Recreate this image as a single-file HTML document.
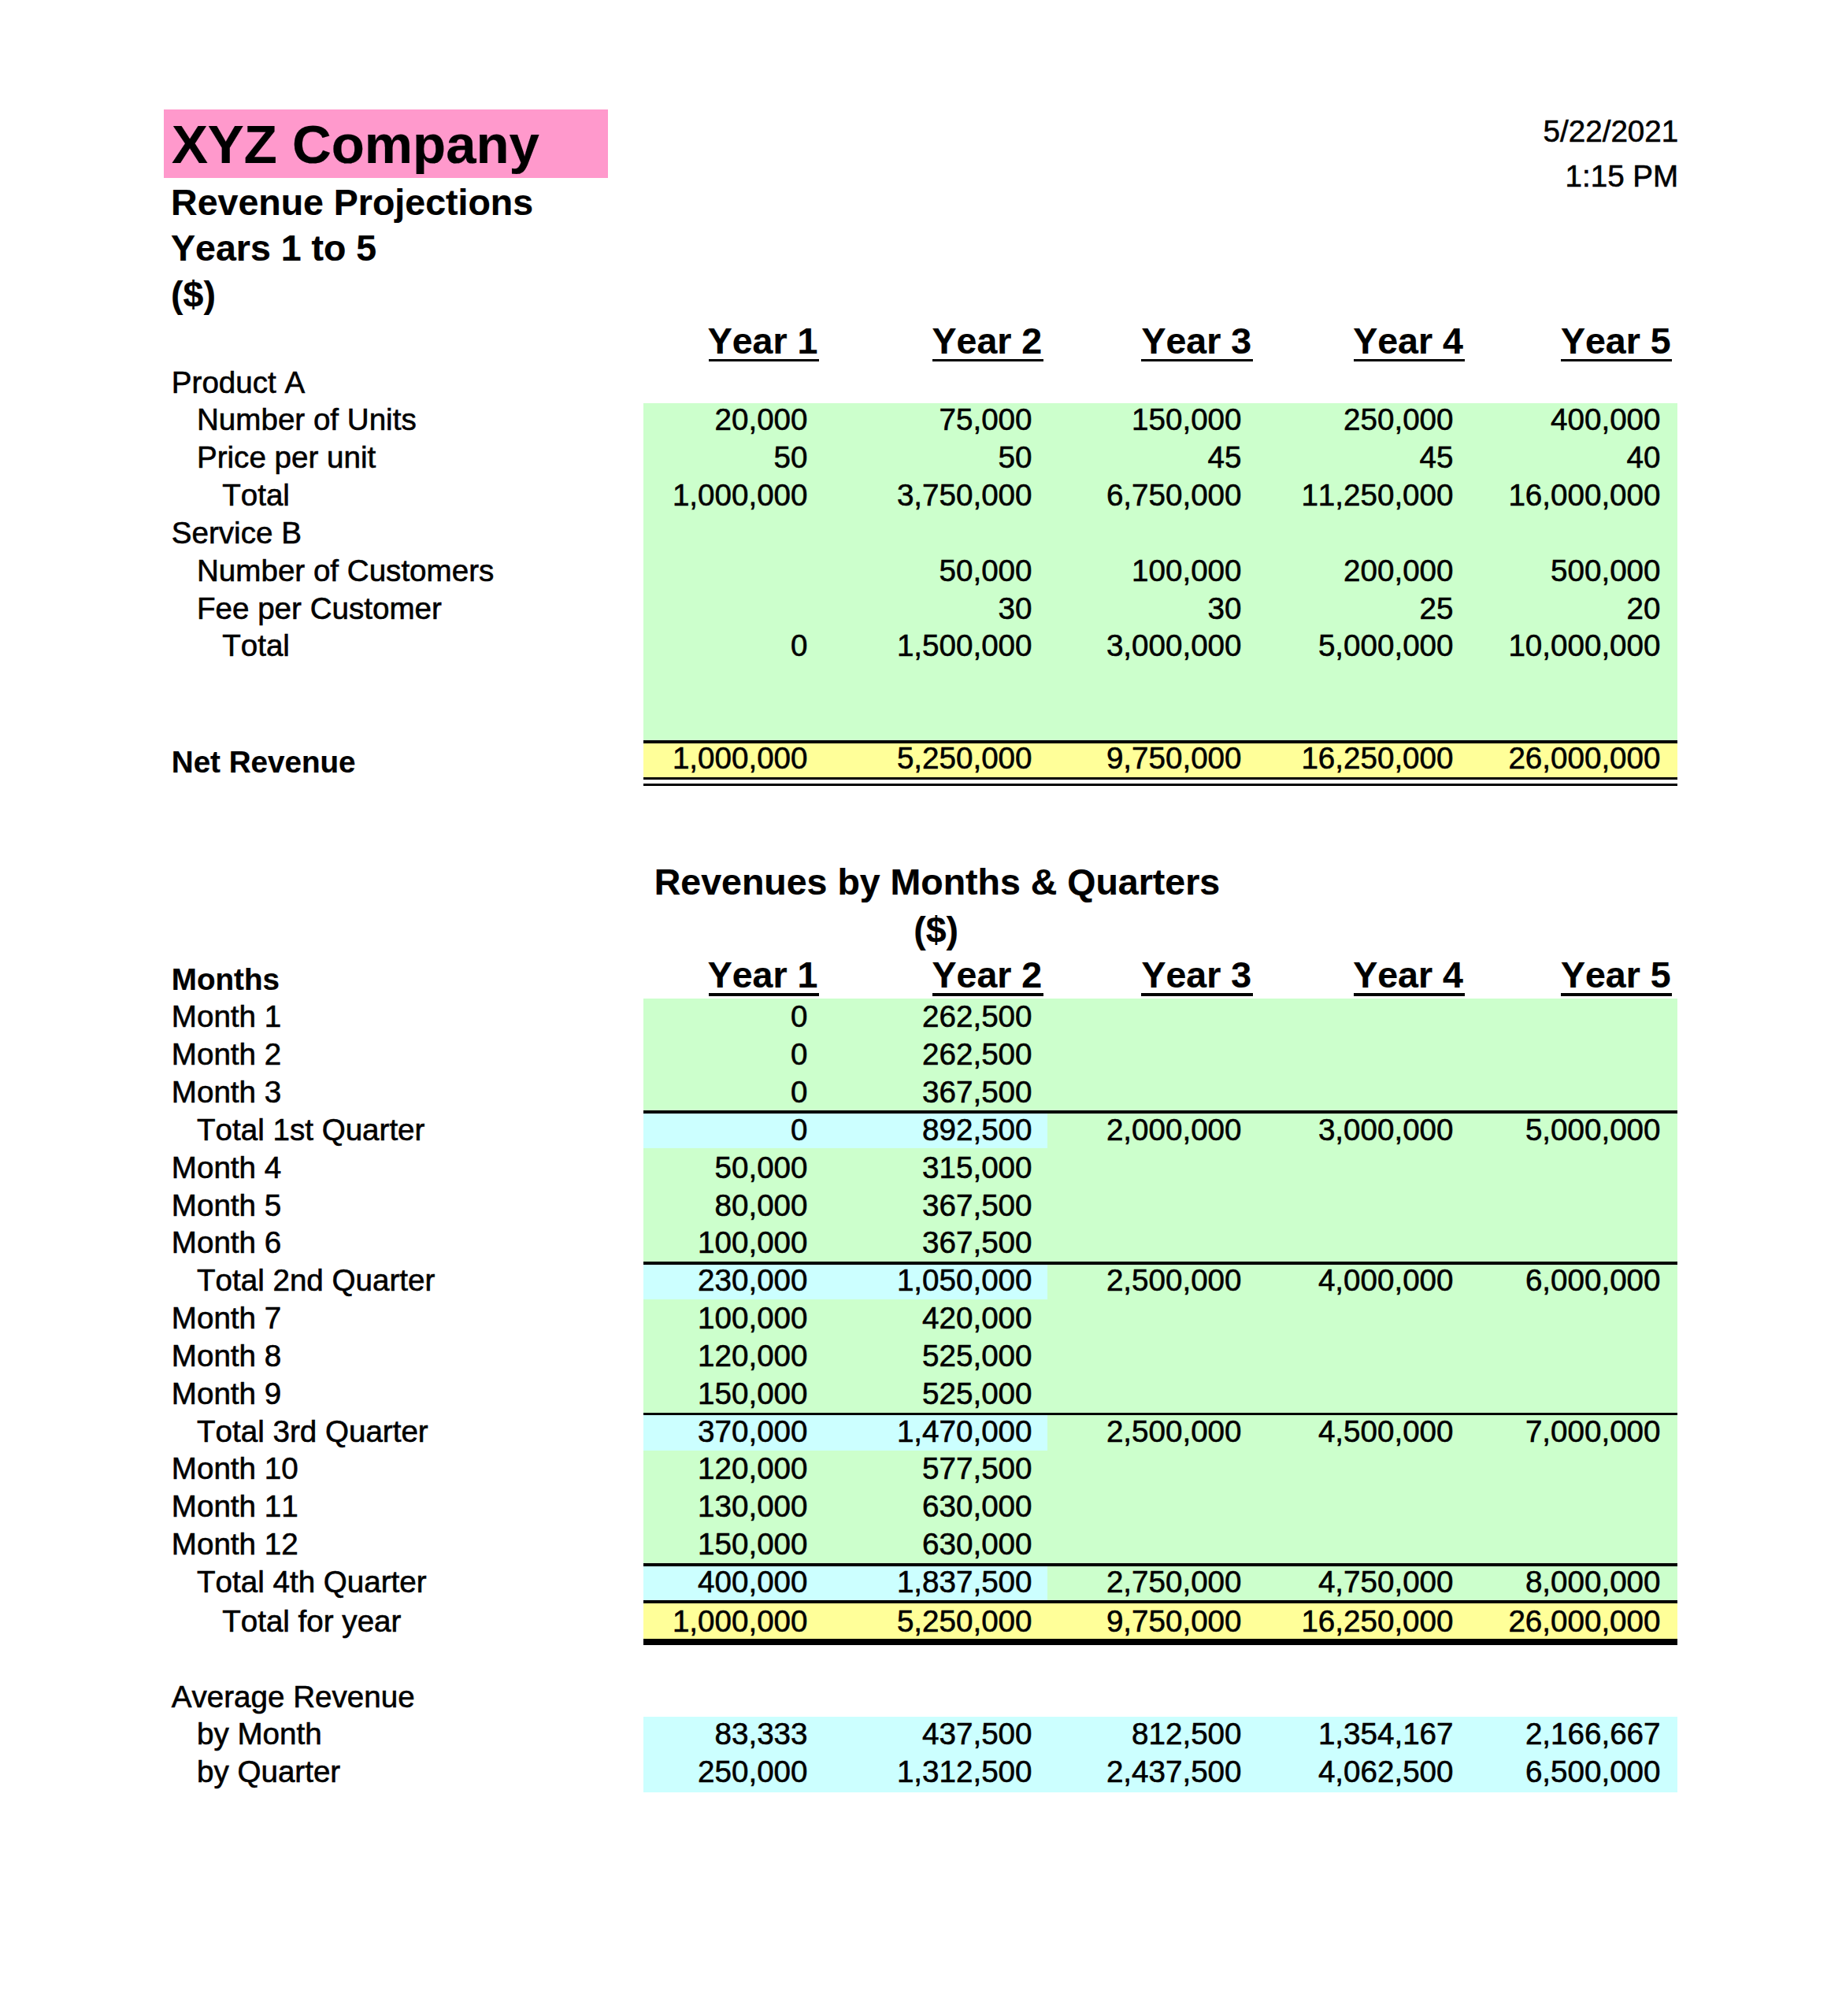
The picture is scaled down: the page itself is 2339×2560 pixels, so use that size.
<!DOCTYPE html>
<html><head><meta charset="utf-8"><style>
html,body{margin:0;padding:0;background:#fff;}
body{width:2339px;height:2560px;position:relative;overflow:hidden;font-family:"Liberation Sans",sans-serif;color:#000;font-kerning:none;}
.r{position:absolute;}
.t,.b{position:absolute;white-space:pre;}
.t{-webkit-text-stroke:0.6px #000;}
.b{-webkit-text-stroke:0.2px #000;}
.b{font-weight:bold;}
</style></head><body>
<div class="r" style="left:208.2px;top:139.4px;width:563.5px;height:86.4px;background:#FF99CC"></div>
<div class="r" style="left:816.6px;top:511.6px;width:1313.9px;height:428.4px;background:#CCFFCC"></div>
<div class="r" style="left:816.6px;top:940.0px;width:1313.9px;height:4.0px;background:#000"></div>
<div class="r" style="left:816.6px;top:944.0px;width:1313.9px;height:43.0px;background:#FFFF99"></div>
<div class="r" style="left:816.6px;top:987.0px;width:1313.9px;height:3.3px;background:#000"></div>
<div class="r" style="left:816.6px;top:994.6px;width:1313.9px;height:3.7px;background:#000"></div>
<div class="r" style="left:816.6px;top:1267.6px;width:1313.9px;height:765.2px;background:#CCFFCC"></div>
<div class="r" style="left:816.6px;top:1410.4px;width:1313.9px;height:3.7px;background:#000"></div>
<div class="r" style="left:816.6px;top:1414.1px;width:513.7px;height:44.2px;background:#CCFFFF"></div>
<div class="r" style="left:816.6px;top:1602.2px;width:1313.9px;height:3.7px;background:#000"></div>
<div class="r" style="left:816.6px;top:1606.0px;width:513.7px;height:44.2px;background:#CCFFFF"></div>
<div class="r" style="left:816.6px;top:1793.7px;width:1313.9px;height:3.7px;background:#000"></div>
<div class="r" style="left:816.6px;top:1797.4px;width:513.7px;height:44.2px;background:#CCFFFF"></div>
<div class="r" style="left:816.6px;top:1984.9px;width:1313.9px;height:3.7px;background:#000"></div>
<div class="r" style="left:816.6px;top:1988.6px;width:513.7px;height:43.6px;background:#CCFFFF"></div>
<div class="r" style="left:816.6px;top:2032.2px;width:1313.9px;height:3.7px;background:#000"></div>
<div class="r" style="left:816.6px;top:2035.9px;width:1313.9px;height:45.4px;background:#FFFF99"></div>
<div class="r" style="left:816.6px;top:2081.3px;width:1313.9px;height:7.5px;background:#000"></div>
<div class="r" style="left:816.6px;top:2180.1px;width:1313.9px;height:96.4px;background:#CCFFFF"></div>
<div class="b" style="left:217.90px;top:149.86px;font-size:68.9px;line-height:68.9px">XYZ Company</div>
<div class="b" style="left:217.10px;top:233.73px;font-size:46.5px;line-height:46.5px">Revenue Projections</div>
<div class="b" style="left:217.10px;top:292.13px;font-size:46.5px;line-height:46.5px">Years 1 to 5</div>
<div class="b" style="left:217.10px;top:350.53px;font-size:46.5px;line-height:46.5px">($)</div>
<div class="t" style="right:207.80px;top:147.52px;font-size:38.6px;line-height:38.6px">5/22/2021</div>
<div class="t" style="right:207.80px;top:204.82px;font-size:38.6px;line-height:38.6px">1:15 PM</div>
<div class="b" style="left:898.71px;top:410.03px;font-size:46.5px;line-height:46.5px">Year 1</div>
<div class="r" style="left:900.0px;top:455.9px;width:140.0px;height:3.5px;background:#000"></div>
<div class="b" style="left:1183.51px;top:410.03px;font-size:46.5px;line-height:46.5px">Year 2</div>
<div class="r" style="left:1183.7px;top:455.9px;width:141.0px;height:3.5px;background:#000"></div>
<div class="b" style="left:1449.41px;top:410.03px;font-size:46.5px;line-height:46.5px">Year 3</div>
<div class="r" style="left:1449.3px;top:455.9px;width:141.7px;height:3.5px;background:#000"></div>
<div class="b" style="left:1718.21px;top:410.03px;font-size:46.5px;line-height:46.5px">Year 4</div>
<div class="r" style="left:1719.3px;top:455.9px;width:140.7px;height:3.5px;background:#000"></div>
<div class="b" style="left:1981.91px;top:410.03px;font-size:46.5px;line-height:46.5px">Year 5</div>
<div class="r" style="left:1981.7px;top:455.9px;width:141.3px;height:3.5px;background:#000"></div>
<div class="t" style="left:217.80px;top:466.52px;font-size:38.6px;line-height:38.6px">Product A</div>
<div class="t" style="left:249.97px;top:514.36px;font-size:38.6px;line-height:38.6px">Number of Units</div>
<div class="t" style="right:1313.50px;top:514.36px;font-size:38.6px;line-height:38.6px">20,000</div>
<div class="t" style="right:1028.50px;top:514.36px;font-size:38.6px;line-height:38.6px">75,000</div>
<div class="t" style="right:762.50px;top:514.36px;font-size:38.6px;line-height:38.6px">150,000</div>
<div class="t" style="right:493.50px;top:514.36px;font-size:38.6px;line-height:38.6px">250,000</div>
<div class="t" style="right:230.50px;top:514.36px;font-size:38.6px;line-height:38.6px">400,000</div>
<div class="t" style="left:249.97px;top:562.20px;font-size:38.6px;line-height:38.6px">Price per unit</div>
<div class="t" style="right:1313.50px;top:562.20px;font-size:38.6px;line-height:38.6px">50</div>
<div class="t" style="right:1028.50px;top:562.20px;font-size:38.6px;line-height:38.6px">50</div>
<div class="t" style="right:762.50px;top:562.20px;font-size:38.6px;line-height:38.6px">45</div>
<div class="t" style="right:493.50px;top:562.20px;font-size:38.6px;line-height:38.6px">45</div>
<div class="t" style="right:230.50px;top:562.20px;font-size:38.6px;line-height:38.6px">40</div>
<div class="t" style="left:282.15px;top:610.04px;font-size:38.6px;line-height:38.6px">Total</div>
<div class="t" style="right:1313.50px;top:610.04px;font-size:38.6px;line-height:38.6px">1,000,000</div>
<div class="t" style="right:1028.50px;top:610.04px;font-size:38.6px;line-height:38.6px">3,750,000</div>
<div class="t" style="right:762.50px;top:610.04px;font-size:38.6px;line-height:38.6px">6,750,000</div>
<div class="t" style="right:493.50px;top:610.04px;font-size:38.6px;line-height:38.6px">11,250,000</div>
<div class="t" style="right:230.50px;top:610.04px;font-size:38.6px;line-height:38.6px">16,000,000</div>
<div class="t" style="left:217.80px;top:657.88px;font-size:38.6px;line-height:38.6px">Service B</div>
<div class="t" style="left:249.97px;top:705.72px;font-size:38.6px;line-height:38.6px">Number of Customers</div>
<div class="t" style="right:1028.50px;top:705.72px;font-size:38.6px;line-height:38.6px">50,000</div>
<div class="t" style="right:762.50px;top:705.72px;font-size:38.6px;line-height:38.6px">100,000</div>
<div class="t" style="right:493.50px;top:705.72px;font-size:38.6px;line-height:38.6px">200,000</div>
<div class="t" style="right:230.50px;top:705.72px;font-size:38.6px;line-height:38.6px">500,000</div>
<div class="t" style="left:249.97px;top:753.56px;font-size:38.6px;line-height:38.6px">Fee per Customer</div>
<div class="t" style="right:1028.50px;top:753.56px;font-size:38.6px;line-height:38.6px">30</div>
<div class="t" style="right:762.50px;top:753.56px;font-size:38.6px;line-height:38.6px">30</div>
<div class="t" style="right:493.50px;top:753.56px;font-size:38.6px;line-height:38.6px">25</div>
<div class="t" style="right:230.50px;top:753.56px;font-size:38.6px;line-height:38.6px">20</div>
<div class="t" style="left:282.15px;top:801.40px;font-size:38.6px;line-height:38.6px">Total</div>
<div class="t" style="right:1313.50px;top:801.40px;font-size:38.6px;line-height:38.6px">0</div>
<div class="t" style="right:1028.50px;top:801.40px;font-size:38.6px;line-height:38.6px">1,500,000</div>
<div class="t" style="right:762.50px;top:801.40px;font-size:38.6px;line-height:38.6px">3,000,000</div>
<div class="t" style="right:493.50px;top:801.40px;font-size:38.6px;line-height:38.6px">5,000,000</div>
<div class="t" style="right:230.50px;top:801.40px;font-size:38.6px;line-height:38.6px">10,000,000</div>
<div class="b" style="left:217.80px;top:949.32px;font-size:38.6px;line-height:38.6px">Net Revenue</div>
<div class="t" style="right:1313.50px;top:944.22px;font-size:38.6px;line-height:38.6px">1,000,000</div>
<div class="t" style="right:1028.50px;top:944.22px;font-size:38.6px;line-height:38.6px">5,250,000</div>
<div class="t" style="right:762.50px;top:944.22px;font-size:38.6px;line-height:38.6px">9,750,000</div>
<div class="t" style="right:493.50px;top:944.22px;font-size:38.6px;line-height:38.6px">16,250,000</div>
<div class="t" style="right:230.50px;top:944.22px;font-size:38.6px;line-height:38.6px">26,000,000</div>
<div class="b" style="left:830.79px;top:1097.33px;font-size:46.5px;line-height:46.5px">Revenues by Months &amp; Quarters</div>
<div class="b" style="left:1160.28px;top:1157.83px;font-size:46.5px;line-height:46.5px">($)</div>
<div class="b" style="left:898.71px;top:1215.43px;font-size:46.5px;line-height:46.5px">Year 1</div>
<div class="r" style="left:900.0px;top:1261.3px;width:140.0px;height:3.5px;background:#000"></div>
<div class="b" style="left:1183.51px;top:1215.43px;font-size:46.5px;line-height:46.5px">Year 2</div>
<div class="r" style="left:1183.7px;top:1261.3px;width:141.0px;height:3.5px;background:#000"></div>
<div class="b" style="left:1449.41px;top:1215.43px;font-size:46.5px;line-height:46.5px">Year 3</div>
<div class="r" style="left:1449.3px;top:1261.3px;width:141.7px;height:3.5px;background:#000"></div>
<div class="b" style="left:1718.21px;top:1215.43px;font-size:46.5px;line-height:46.5px">Year 4</div>
<div class="r" style="left:1719.3px;top:1261.3px;width:140.7px;height:3.5px;background:#000"></div>
<div class="b" style="left:1981.91px;top:1215.43px;font-size:46.5px;line-height:46.5px">Year 5</div>
<div class="r" style="left:1981.7px;top:1261.3px;width:141.3px;height:3.5px;background:#000"></div>
<div class="b" style="left:217.80px;top:1224.52px;font-size:38.6px;line-height:38.6px">Months</div>
<div class="t" style="left:217.80px;top:1272.36px;font-size:38.6px;line-height:38.6px">Month 1</div>
<div class="t" style="right:1313.50px;top:1272.36px;font-size:38.6px;line-height:38.6px">0</div>
<div class="t" style="right:1028.50px;top:1272.36px;font-size:38.6px;line-height:38.6px">262,500</div>
<div class="t" style="left:217.80px;top:1320.20px;font-size:38.6px;line-height:38.6px">Month 2</div>
<div class="t" style="right:1313.50px;top:1320.20px;font-size:38.6px;line-height:38.6px">0</div>
<div class="t" style="right:1028.50px;top:1320.20px;font-size:38.6px;line-height:38.6px">262,500</div>
<div class="t" style="left:217.80px;top:1368.04px;font-size:38.6px;line-height:38.6px">Month 3</div>
<div class="t" style="right:1313.50px;top:1368.04px;font-size:38.6px;line-height:38.6px">0</div>
<div class="t" style="right:1028.50px;top:1368.04px;font-size:38.6px;line-height:38.6px">367,500</div>
<div class="t" style="left:249.97px;top:1415.88px;font-size:38.6px;line-height:38.6px">Total 1st Quarter</div>
<div class="t" style="right:1313.50px;top:1415.88px;font-size:38.6px;line-height:38.6px">0</div>
<div class="t" style="right:1028.50px;top:1415.88px;font-size:38.6px;line-height:38.6px">892,500</div>
<div class="t" style="right:762.50px;top:1415.88px;font-size:38.6px;line-height:38.6px">2,000,000</div>
<div class="t" style="right:493.50px;top:1415.88px;font-size:38.6px;line-height:38.6px">3,000,000</div>
<div class="t" style="right:230.50px;top:1415.88px;font-size:38.6px;line-height:38.6px">5,000,000</div>
<div class="t" style="left:217.80px;top:1463.72px;font-size:38.6px;line-height:38.6px">Month 4</div>
<div class="t" style="right:1313.50px;top:1463.72px;font-size:38.6px;line-height:38.6px">50,000</div>
<div class="t" style="right:1028.50px;top:1463.72px;font-size:38.6px;line-height:38.6px">315,000</div>
<div class="t" style="left:217.80px;top:1511.56px;font-size:38.6px;line-height:38.6px">Month 5</div>
<div class="t" style="right:1313.50px;top:1511.56px;font-size:38.6px;line-height:38.6px">80,000</div>
<div class="t" style="right:1028.50px;top:1511.56px;font-size:38.6px;line-height:38.6px">367,500</div>
<div class="t" style="left:217.80px;top:1559.40px;font-size:38.6px;line-height:38.6px">Month 6</div>
<div class="t" style="right:1313.50px;top:1559.40px;font-size:38.6px;line-height:38.6px">100,000</div>
<div class="t" style="right:1028.50px;top:1559.40px;font-size:38.6px;line-height:38.6px">367,500</div>
<div class="t" style="left:249.97px;top:1607.24px;font-size:38.6px;line-height:38.6px">Total 2nd Quarter</div>
<div class="t" style="right:1313.50px;top:1607.24px;font-size:38.6px;line-height:38.6px">230,000</div>
<div class="t" style="right:1028.50px;top:1607.24px;font-size:38.6px;line-height:38.6px">1,050,000</div>
<div class="t" style="right:762.50px;top:1607.24px;font-size:38.6px;line-height:38.6px">2,500,000</div>
<div class="t" style="right:493.50px;top:1607.24px;font-size:38.6px;line-height:38.6px">4,000,000</div>
<div class="t" style="right:230.50px;top:1607.24px;font-size:38.6px;line-height:38.6px">6,000,000</div>
<div class="t" style="left:217.80px;top:1655.08px;font-size:38.6px;line-height:38.6px">Month 7</div>
<div class="t" style="right:1313.50px;top:1655.08px;font-size:38.6px;line-height:38.6px">100,000</div>
<div class="t" style="right:1028.50px;top:1655.08px;font-size:38.6px;line-height:38.6px">420,000</div>
<div class="t" style="left:217.80px;top:1702.92px;font-size:38.6px;line-height:38.6px">Month 8</div>
<div class="t" style="right:1313.50px;top:1702.92px;font-size:38.6px;line-height:38.6px">120,000</div>
<div class="t" style="right:1028.50px;top:1702.92px;font-size:38.6px;line-height:38.6px">525,000</div>
<div class="t" style="left:217.80px;top:1750.76px;font-size:38.6px;line-height:38.6px">Month 9</div>
<div class="t" style="right:1313.50px;top:1750.76px;font-size:38.6px;line-height:38.6px">150,000</div>
<div class="t" style="right:1028.50px;top:1750.76px;font-size:38.6px;line-height:38.6px">525,000</div>
<div class="t" style="left:249.97px;top:1798.60px;font-size:38.6px;line-height:38.6px">Total 3rd Quarter</div>
<div class="t" style="right:1313.50px;top:1798.60px;font-size:38.6px;line-height:38.6px">370,000</div>
<div class="t" style="right:1028.50px;top:1798.60px;font-size:38.6px;line-height:38.6px">1,470,000</div>
<div class="t" style="right:762.50px;top:1798.60px;font-size:38.6px;line-height:38.6px">2,500,000</div>
<div class="t" style="right:493.50px;top:1798.60px;font-size:38.6px;line-height:38.6px">4,500,000</div>
<div class="t" style="right:230.50px;top:1798.60px;font-size:38.6px;line-height:38.6px">7,000,000</div>
<div class="t" style="left:217.80px;top:1846.44px;font-size:38.6px;line-height:38.6px">Month 10</div>
<div class="t" style="right:1313.50px;top:1846.44px;font-size:38.6px;line-height:38.6px">120,000</div>
<div class="t" style="right:1028.50px;top:1846.44px;font-size:38.6px;line-height:38.6px">577,500</div>
<div class="t" style="left:217.80px;top:1894.28px;font-size:38.6px;line-height:38.6px">Month 11</div>
<div class="t" style="right:1313.50px;top:1894.28px;font-size:38.6px;line-height:38.6px">130,000</div>
<div class="t" style="right:1028.50px;top:1894.28px;font-size:38.6px;line-height:38.6px">630,000</div>
<div class="t" style="left:217.80px;top:1942.12px;font-size:38.6px;line-height:38.6px">Month 12</div>
<div class="t" style="right:1313.50px;top:1942.12px;font-size:38.6px;line-height:38.6px">150,000</div>
<div class="t" style="right:1028.50px;top:1942.12px;font-size:38.6px;line-height:38.6px">630,000</div>
<div class="t" style="left:249.97px;top:1989.96px;font-size:38.6px;line-height:38.6px">Total 4th Quarter</div>
<div class="t" style="right:1313.50px;top:1989.96px;font-size:38.6px;line-height:38.6px">400,000</div>
<div class="t" style="right:1028.50px;top:1989.96px;font-size:38.6px;line-height:38.6px">1,837,500</div>
<div class="t" style="right:762.50px;top:1989.96px;font-size:38.6px;line-height:38.6px">2,750,000</div>
<div class="t" style="right:493.50px;top:1989.96px;font-size:38.6px;line-height:38.6px">4,750,000</div>
<div class="t" style="right:230.50px;top:1989.96px;font-size:38.6px;line-height:38.6px">8,000,000</div>
<div class="t" style="left:282.15px;top:2039.62px;font-size:38.6px;line-height:38.6px">Total for year</div>
<div class="t" style="right:1313.50px;top:2039.62px;font-size:38.6px;line-height:38.6px">1,000,000</div>
<div class="t" style="right:1028.50px;top:2039.62px;font-size:38.6px;line-height:38.6px">5,250,000</div>
<div class="t" style="right:762.50px;top:2039.62px;font-size:38.6px;line-height:38.6px">9,750,000</div>
<div class="t" style="right:493.50px;top:2039.62px;font-size:38.6px;line-height:38.6px">16,250,000</div>
<div class="t" style="right:230.50px;top:2039.62px;font-size:38.6px;line-height:38.6px">26,000,000</div>
<div class="t" style="left:217.80px;top:2135.92px;font-size:38.6px;line-height:38.6px">Average Revenue</div>
<div class="t" style="left:249.97px;top:2183.32px;font-size:38.6px;line-height:38.6px">by Month</div>
<div class="t" style="right:1313.50px;top:2183.32px;font-size:38.6px;line-height:38.6px">83,333</div>
<div class="t" style="right:1028.50px;top:2183.32px;font-size:38.6px;line-height:38.6px">437,500</div>
<div class="t" style="right:762.50px;top:2183.32px;font-size:38.6px;line-height:38.6px">812,500</div>
<div class="t" style="right:493.50px;top:2183.32px;font-size:38.6px;line-height:38.6px">1,354,167</div>
<div class="t" style="right:230.50px;top:2183.32px;font-size:38.6px;line-height:38.6px">2,166,667</div>
<div class="t" style="left:249.97px;top:2231.22px;font-size:38.6px;line-height:38.6px">by Quarter</div>
<div class="t" style="right:1313.50px;top:2231.22px;font-size:38.6px;line-height:38.6px">250,000</div>
<div class="t" style="right:1028.50px;top:2231.22px;font-size:38.6px;line-height:38.6px">1,312,500</div>
<div class="t" style="right:762.50px;top:2231.22px;font-size:38.6px;line-height:38.6px">2,437,500</div>
<div class="t" style="right:493.50px;top:2231.22px;font-size:38.6px;line-height:38.6px">4,062,500</div>
<div class="t" style="right:230.50px;top:2231.22px;font-size:38.6px;line-height:38.6px">6,500,000</div>
</body></html>
